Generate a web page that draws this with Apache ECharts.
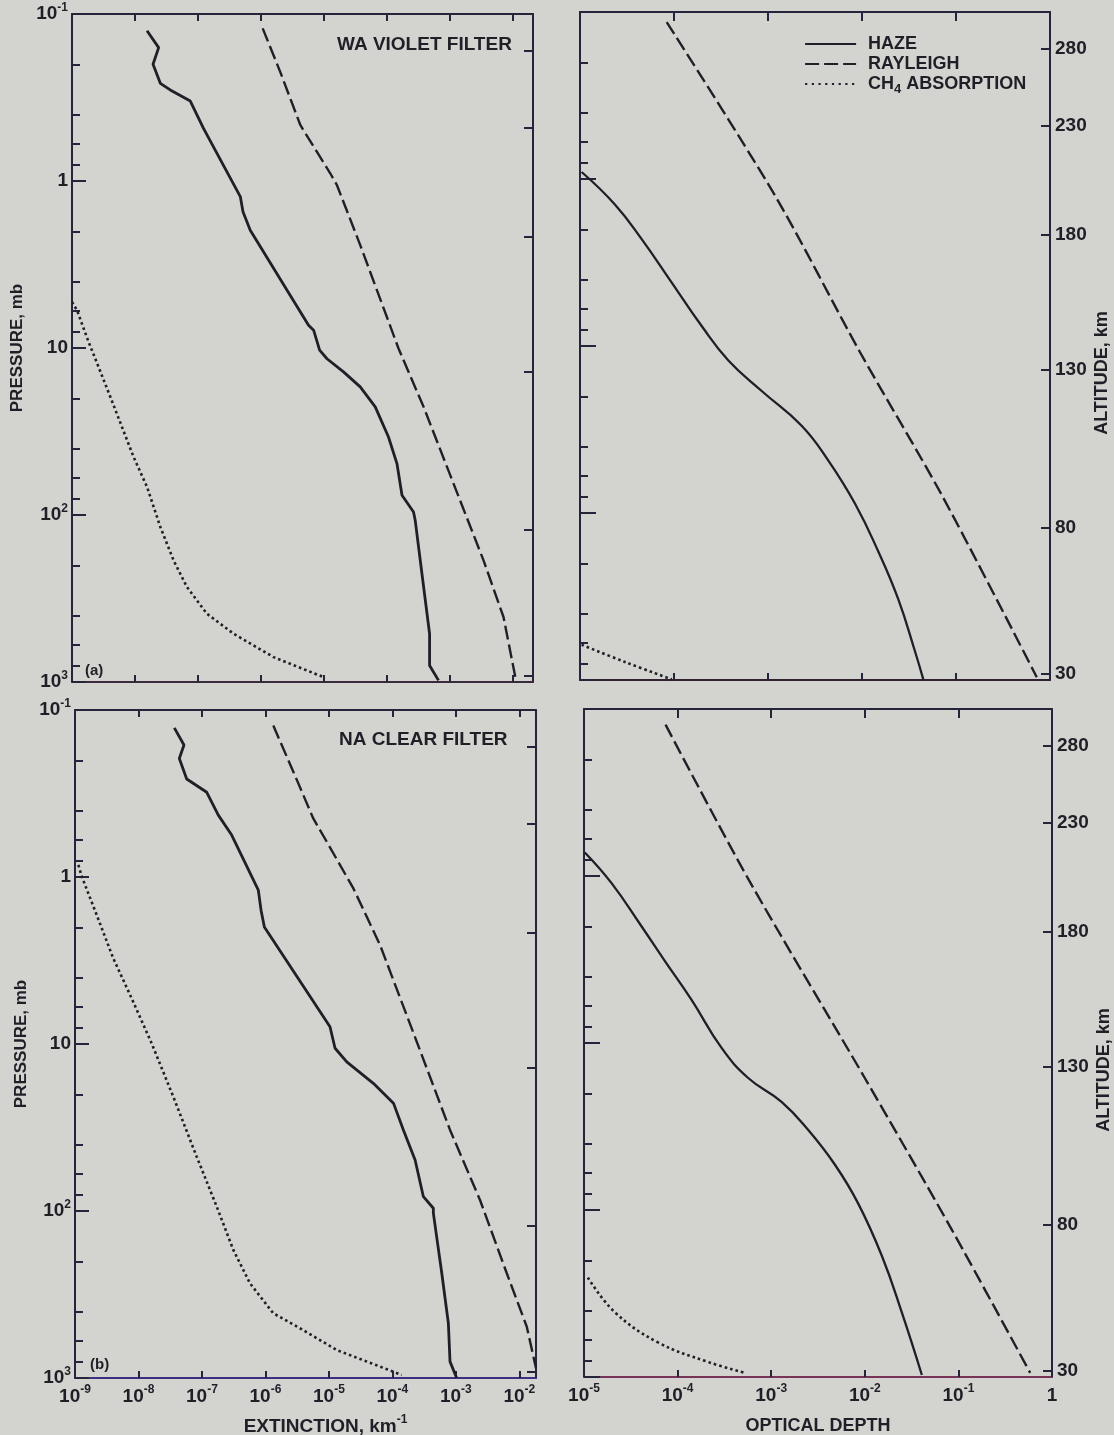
<!DOCTYPE html>
<html>
<head>
<meta charset="utf-8">
<script src="https://cdn.jsdelivr.net/npm/echarts@6/dist/echarts.min.js"></script>
<style>
html,body{margin:0;padding:0;background:#d3d3cf;}
#c{width:1114px;height:1435px;}
</style>
</head>
<body>
<div id="c"></div>
<script>
// ---------------- DATA ----------------
const seriesNames = ['HAZE', 'RAYLEIGH', 'CH4 ABSORPTION'];

const pressureTicks = [0.1, 1, 10, 100, 1000];
const pressureTickLabels = [['10','-1'], ['1',''], ['10',''], ['10','2'], ['10','3']];
const pressureMinorTicks = [0.2,0.4,0.6,0.8, 2,4,6,8, 20,40,60,80, 200,400,600,800];
const altitudeTickPressures = [0.167, 0.479, 2.15, 13.8, 123, 920];
const altitudeTickLabels = ['280', '230', '180', '130', '80', '30'];
const extinctionTicks = [1e-9, 1e-8, 1e-7, 1e-6, 1e-5, 1e-4, 1e-3, 1e-2];
const extinctionTickLabels = [['10','-9'],['10','-8'],['10','-7'],['10','-6'],['10','-5'],['10','-4'],['10','-3'],['10','-2']];
const opticalDepthTicks = [1e-5, 1e-4, 1e-3, 1e-2, 1e-1, 1];
const opticalDepthTickLabels = [['10','-5'],['10','-4'],['10','-3'],['10','-2'],['10','-1'],['1','']];

// (a) WA violet filter — extinction [km^-1, pressure mb]
const waHazeExtinction = [[1.55e-8,0.126],[2.37e-8,0.159],[1.93e-8,0.200],[2.52e-8,0.260],[3.62e-8,0.285],[7.53e-8,0.332],[1.22e-7,0.484],[4.68e-7,1.24],[5.16e-7,1.53],[6.73e-7,1.97],[5.66e-6,7.30],[6.81e-6,7.82],[8.48e-6,10.3],[1.11e-5,11.6],[2.03e-5,13.9],[3.74e-5,17.1],[6.47e-5,22.5],[1.05e-4,34.1],[1.43e-4,49.2],[1.72e-4,76.2],[2.62e-4,95.9],[2.79e-4,108],[3.56e-4,224],[4.71e-4,514],[4.71e-4,796],[6.53e-4,978]];
const waRayleighExtinction = [[1.06e-6,0.122],[2.01e-6,0.222],[4.19e-6,0.462],[5.66e-6,0.556],[1.25e-5,0.899],[1.60e-5,1.06],[3.74e-5,2.42],[1.52e-4,10.1],[3.78e-4,22.5],[1.13e-3,64.9],[3.38e-3,187],[7.01e-3,408],[1.08e-2,935]];
const waCH4Extinction = [[1e-9,5.30],[1.20e-9,5.94],[1.83e-9,9.19],[2.07e-9,10.3],[4.05e-9,19.6],[9.48e-9,44.9],[1.55e-8,67.9],[2.52e-8,118],[4.09e-8,187],[6.67e-8,270],[1.38e-7,390],[3.66e-7,514],[1.58e-6,710],[9.8e-6,935]];
// (a) optical depth
const waHazeOptical = [[1.04e-5,0.908],[2.35e-5,1.42],[4.53e-5,2.29],[9.46e-5,4.17],[1.97e-4,7.59],[3.79e-4,12.2],[8.57e-4,18.6],[2.28e-3,30.0],[4.37e-3,48.4],[8.44e-3,88.1],[1.49e-2,170],[2.43e-2,328],[3.66e-2,673],[4.49e-2,991]];
const waRayleighOptical = [[8.36e-5,0.115],[1.19e-3,1.26],[9.53e-3,10.9],[7.05e-2,78.0],[0.723,962]];
const waCH4Optical = [[1.04e-5,615],[3.01e-5,780],[9.46e-5,991]];

// (b) NA clear filter — extinction
const naHazeExtinction = [[3.67e-8,0.128],[5.21e-8,0.162],[4.40e-8,0.195],[5.75e-8,0.259],[1.19e-7,0.311],[1.81e-7,0.426],[2.94e-7,0.561],[7.73e-7,1.20],[8.53e-7,1.58],[9.62e-7,1.99],[1.04e-5,7.88],[1.25e-5,10.6],[1.91e-5,12.8],[5.01e-5,17.2],[1.04e-4,22.6],[1.49e-4,32.7],[2.28e-4,49.5],[3.08e-4,82.1],[4.42e-4,96.3],[4.42e-4,103],[6.00e-4,236],[7.62e-4,470],[8.09e-4,798],[1.03e-3,1000]];
const naRayleighExtinction = [[1.33e-6,0.124],[2.75e-6,0.234],[5.67e-6,0.446],[9.25e-6,0.615],[2.43e-5,1.17],[6.38e-5,2.55],[2.42e-4,9.69],[8.09e-4,32.7],[2.40e-3,85.9],[6.34e-3,236],[1.31e-2,493],[1.83e-2,875]];
const naCH4Extinction = [[1.13e-9,0.847],[1.28e-9,0.995],[2.20e-9,1.69],[4.01e-9,3.07],[7.81e-9,5.33],[1.61e-8,9.9],[3.54e-8,20.7],[8.26e-8,47.3],[1.71e-7,94.2],[3.12e-7,171],[5.71e-7,271],[1.33e-6,410],[3.51e-6,504],[1.33e-5,680],[1.04e-4,917],[1.40e-4,960]];
// (b) optical depth
const naHazeOptical = [[1.02e-5,0.723],[1.96e-5,1.10],[4.11e-5,2.00],[7.29e-5,3.22],[1.41e-4,5.52],[2.95e-4,10.7],[5.68e-4,16.2],[1.29e-3,22.5],[2.49e-3,33.2],[4.80e-3,53.6],[8.51e-3,91.6],[1.52e-2,188],[2.48e-2,409],[4.07e-2,973]];
const naRayleighOptical = [[7.43e-5,0.124],[5.68e-4,1.04],[1.00e-2,16.2],[8.49e-2,131],[0.585,945]];
const naCH4Optical = [[1.10e-5,254],[2.13e-5,409],[6.18e-5,621],[2.12e-4,813],[5.24e-4,945]];

// ---------------- STYLE / LAYOUT ----------------
const BG = '#d3d3cf';
const INK = '#1f1f27';
const AXIS = '#24243a';
const FONT = '"Liberation Sans", Arial, Helvetica, sans-serif';

const rich = {
  sup: {fontSize: 12, fontWeight: 'bold', fontFamily: FONT, color: INK, padding: [0, 0, 13, 0]},
  sub: {fontSize: 13, fontWeight: 'bold', fontFamily: FONT, color: INK, padding: [11, 0, 0, 0]}
};
const labelStyle = {fontSize: 19, fontWeight: 'bold', fontFamily: FONT, color: INK, rich: rich};
const nameStyle = {fontSize: 18, fontWeight: 'bold', fontFamily: FONT, color: INK, rich: rich};

function fmtPair(pair) { return pair[1] ? pair[0] + '{sup|' + pair[1] + '}' : pair[0]; }
function lookup(ticks, labels) {
  return function (v) {
    let best = -1, d = 1e9;
    ticks.forEach(function (t, i) {
      const dd = Math.abs(Math.log10(t) - Math.log10(v));
      if (dd < d) { d = dd; best = i; }
    });
    if (best < 0 || d > 1e-3) return '';
    const l = labels[best];
    return typeof l === 'string' ? l : fmtPair(l);
  };
}

const panels = [
  {left: 72, top: 14, width: 461, height: 668, kind: 'ext', xMin: 1e-9, xMax: 0.0206, leftLabels: true, rightLabels: false, bottomLabels: false, majorLen: 14, pNameGap: 46, bottomColor: '#3a2a3c'},
  {left: 580, top: 12, width: 470, height: 668, kind: 'od', xMin: 1e-5, xMax: 1, leftLabels: false, rightLabels: true, bottomLabels: false, majorLen: 16, bottomColor: '#2e2230'},
  {left: 75, top: 710, width: 461, height: 668, kind: 'ext', xMin: 1e-9, xMax: 0.0183, leftLabels: true, rightLabels: false, bottomLabels: true, majorLen: 14, pNameGap: 45, bottomColor: '#3b3080'},
  {left: 584, top: 709, width: 468, height: 668, kind: 'od', xMin: 1e-5, xMax: 1, leftLabels: false, rightLabels: true, bottomLabels: true, majorLen: 16, bottomColor: '#7a3358'}
];

const panelSeries = [
  [waHazeExtinction, waRayleighExtinction, waCH4Extinction],
  [waHazeOptical, waRayleighOptical, waCH4Optical],
  [naHazeExtinction, naRayleighExtinction, naCH4Extinction],
  [naHazeOptical, naRayleighOptical, naCH4Optical]
];

const xAxis = [], yAxis = [], series = [];
panels.forEach(function (p, gi) {
  const ticks = p.kind === 'ext' ? extinctionTicks : opticalDepthTicks;
  const tlabels = p.kind === 'ext' ? extinctionTickLabels : opticalDepthTickLabels;
  const tickStyle = {color: AXIS, width: 2};
  const xBase = {type: 'log', logBase: 10, gridIndex: gi, min: p.xMin, max: p.xMax, splitLine: {show: false}};
  const xName = p.bottomLabels ? (p.kind === 'ext' ? 'EXTINCTION, km{sup|-1}' : 'OPTICAL DEPTH') : '';
  xAxis.push(Object.assign({}, xBase, {
    position: 'bottom',
    axisLine: {show: true, onZero: false, lineStyle: {color: p.bottomColor, width: 2}},
    axisTick: {show: true, inside: true, length: 7, customValues: ticks, lineStyle: tickStyle},
    axisLabel: Object.assign({show: p.bottomLabels, customValues: ticks, formatter: lookup(ticks, tlabels), margin: 6, lineHeight: 25}, labelStyle),
    name: xName, nameLocation: 'middle', nameGap: p.kind === 'ext' ? 36 : 40,
    nameTextStyle: Object.assign({}, nameStyle, p.kind === 'ext' ? {fontSize: 19, padding: [0, 0, 0, 40]} : {fontSize: 18})
  }));
  xAxis.push(Object.assign({}, xBase, {
    position: 'top',
    axisLine: {show: true, onZero: false, lineStyle: {color: AXIS, width: 2}},
    axisTick: {show: true, inside: true, length: p.kind === 'ext' ? 7 : 9, customValues: ticks, lineStyle: tickStyle},
    axisLabel: {show: false}
  }));

  const yBase = {type: 'log', logBase: 10, gridIndex: gi, min: 0.1, max: 1000, inverse: true, splitLine: {show: false}};
  yAxis.push(Object.assign({}, yBase, {
    position: 'left',
    axisLine: {show: true, onZero: false, lineStyle: {color: AXIS, width: 2}},
    axisTick: {show: true, inside: true, length: p.majorLen, customValues: pressureTicks, lineStyle: tickStyle},
    axisLabel: Object.assign({show: p.leftLabels, customValues: pressureTicks, formatter: lookup(pressureTicks, pressureTickLabels), margin: 4, lineHeight: 25}, labelStyle),
    name: p.leftLabels ? 'PRESSURE, mb' : '', nameLocation: 'middle', nameGap: p.pNameGap || 46,
    nameTextStyle: Object.assign({}, nameStyle, {fontSize: 17})
  }));
  yAxis.push(Object.assign({}, yBase, {
    position: 'left',
    axisLine: {show: false},
    axisTick: {show: true, inside: true, length: 8, customValues: pressureMinorTicks, lineStyle: tickStyle},
    axisLabel: {show: false}
  }));
  yAxis.push(Object.assign({}, yBase, {
    position: 'right',
    axisLine: {show: true, onZero: false, lineStyle: {color: AXIS, width: 2}},
    axisTick: {show: true, inside: true, length: 9, customValues: altitudeTickPressures, lineStyle: tickStyle},
    axisLabel: Object.assign({show: p.rightLabels, customValues: altitudeTickPressures, formatter: lookup(altitudeTickPressures, altitudeTickLabels), margin: 5}, labelStyle),
    name: p.rightLabels ? 'ALTITUDE, km' : '', nameLocation: 'middle', nameRotate: 90, nameGap: 43,
    nameTextStyle: Object.assign({}, nameStyle, {fontSize: 18, padding: [0, 54, 0, 0]})
  }));

  const isExt = p.kind === 'ext';
  const styles = [
    {type: 'solid', width: isExt ? 2.8 : 2.3, smooth: isExt ? false : 0.45},
    {type: [14, 5], width: 2.4, smooth: isExt ? false : 0.3},
    {type: [2.6, 3.0], width: 2.6, smooth: isExt ? false : 0.4}
  ];
  panelSeries[gi].forEach(function (data, si) {
    const st = styles[si];
    series.push({
      type: 'line', name: seriesNames[si], data: data,
      xAxisIndex: gi * 2, yAxisIndex: gi * 3,
      symbol: 'none', showSymbol: false, clip: false, silent: true,
      smooth: st.smooth,
      lineStyle: {color: INK, width: st.width, type: st.type, cap: 'butt'},
      itemStyle: {color: INK},
      emphasis: {disabled: true}
    });
  });
});

const titleStyle = {fontSize: 19, fontWeight: 'bold', fontFamily: FONT, color: INK};
const option = {
  backgroundColor: BG,
  animation: false,
  textStyle: {fontFamily: FONT},
  title: [
    {text: 'WA VIOLET FILTER', left: 337, top: 35, padding: 0, textStyle: titleStyle},
    {text: 'NA CLEAR FILTER', left: 339, top: 730, padding: 0, textStyle: titleStyle},
    {text: '(a)', left: 85, top: 663, padding: 0, textStyle: Object.assign({}, titleStyle, {fontSize: 15})},
    {text: '(b)', left: 90, top: 1357, padding: 0, textStyle: Object.assign({}, titleStyle, {fontSize: 15})}
  ],
  legend: {
    orient: 'vertical', left: 804, top: 34, padding: 0,
    itemWidth: 51, itemHeight: 10, itemGap: 0, selectedMode: false,
    itemStyle: {color: 'rgba(0,0,0,0)', borderColor: 'rgba(0,0,0,0)', borderWidth: 0, opacity: 0},
    textStyle: {color: INK, fontSize: 18, fontWeight: 'bold', fontFamily: FONT, lineHeight: 20, padding: [0, 0, 0, 7], rich: rich},
    formatter: function (name) { return name === 'CH4 ABSORPTION' ? 'CH{sub|4} ABSORPTION' : name; },
    data: [
      {name: 'HAZE', lineStyle: {width: 2.2}},
      {name: 'RAYLEIGH', lineStyle: {width: 2.2}},
      {name: 'CH4 ABSORPTION', lineStyle: {type: [2.2, 4.5], width: 2.2}}
    ]
  },
  grid: panels.map(function (p) {
    return {left: p.left, top: p.top, width: p.width, height: p.height, containLabel: false, outerBoundsMode: 'none'};
  }),
  xAxis: xAxis,
  yAxis: yAxis,
  series: series
};

const chart = echarts.init(document.getElementById('c'), null, {renderer: 'canvas'});
chart.setOption(option);
</script>
</body>
</html>
